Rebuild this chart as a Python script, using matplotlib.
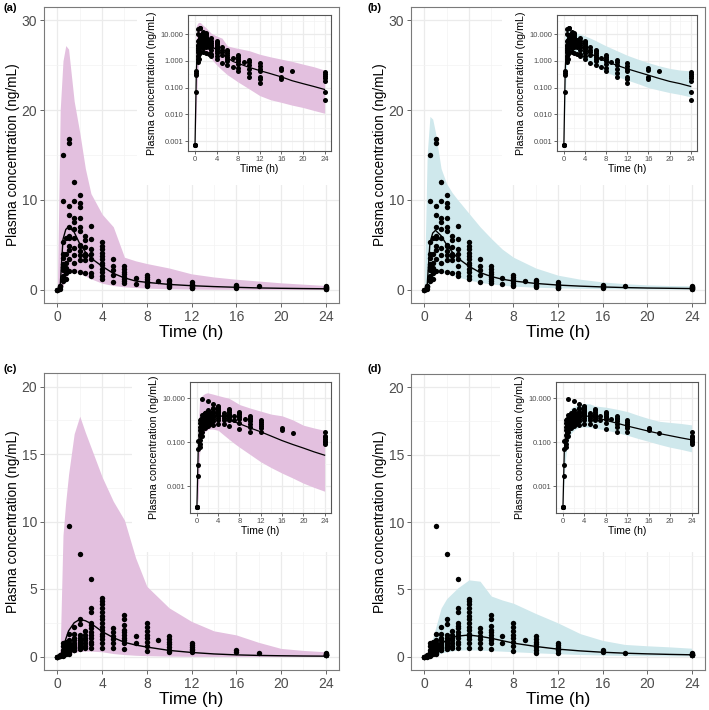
import matplotlib
matplotlib.use("Agg")
import matplotlib.pyplot as plt
from matplotlib.patches import Rectangle
from matplotlib.ticker import FixedLocator, NullFormatter
import numpy as np

plt.rcParams['font.family'] = ['Liberation Sans', 'DejaVu Sans']

# nominal sampling times of the observed data
obs_times = [0, 0.25, 0.5, 0.75, 1, 1.5, 2, 2.5, 3, 4, 5, 6, 7, 8, 9, 10, 12, 16, 18, 24]

# observed concentrations (ng/mL), study used in panels (a) and (b)
study1_conc = [
    [0, 0, 0],
    [0.42, 0.35, 0.3, 0.07],
    [15.0, 9.9, 5.3, 4.0, 3.5, 2.9, 2.5, 2.2, 1.5, 1.2, 0.9],
    [5.8, 4.0, 3.0, 2.4, 1.8, 1.2],
    [16.8, 16.3, 9.3, 8.3, 7.0, 6.0, 5.7, 4.8, 4.4, 3.4, 2.1],
    [12.0, 9.9, 8.0, 7.5, 6.8, 5.8, 4.6, 3.8, 3.0, 2.1],
    [10.5, 9.7, 9.2, 8.0, 7.0, 6.5, 5.0, 4.8, 4.3, 3.8, 3.3, 2.0],
    [6.0, 5.5, 4.7, 4.0, 3.7, 3.3, 1.8],
    [7.1, 5.6, 4.5, 4.0, 3.4, 2.6, 1.8, 1.5],
    [5.3, 4.9, 4.5, 4.1, 3.7, 3.4, 3.0, 2.7, 2.3, 2.0, 1.5, 1.2],
    [3.4, 2.6, 2.2, 1.6, 0.8],
    [2.6, 2.3, 2.0, 1.7, 1.4, 1.2, 1.0, 0.7],
    [1.3, 0.6],
    [1.6, 1.4, 1.2, 1.0, 0.75, 0.55, 0.4],
    [0.9],
    [1.1, 0.9, 0.7, 0.5, 0.35, 0.25],
    [0.85, 0.65, 0.5, 0.4, 0.25, 0.2, 0.15],
    [0.55, 0.45, 0.25, 0.2],
    [0.4],
    [0.38, 0.32, 0.27, 0.22, 0.17, 0.07, 0.035],
]

# observed concentrations (ng/mL), study used in panels (c) and (d)
study2_conc = [
    [0, 0, 0, 0],
    [0.12, 0.05, 0.009, 0.003],
    [1.0, 0.75, 0.5, 0.35, 0.22, 0.13, 0.08, 0.06],
    [1.1, 0.8, 0.6, 0.45, 0.3, 0.2],
    [9.7, 1.7, 1.2, 1.0, 0.85, 0.7, 0.6, 0.5, 0.4, 0.3, 0.2],
    [2.2, 1.7, 1.4, 1.2, 1.0, 0.85, 0.7, 0.6, 0.5, 0.45],
    [7.6, 2.8, 2.4, 1.6, 1.4, 1.25, 1.1, 0.95, 0.8, 0.7, 0.6, 0.55],
    [1.9, 1.6, 1.4, 1.2, 1.0, 0.8, 0.65],
    [5.75, 3.6, 3.3, 2.5, 2.3, 2.1, 1.8, 1.6, 1.4, 1.1, 0.9, 0.6],
    [4.3, 4.1, 3.9, 3.6, 3.3, 3.0, 2.8, 2.5, 2.2, 2.0, 1.7, 1.5, 1.3, 1.0, 0.65],
    [2.1, 1.8, 1.5, 1.3, 1.0, 0.65],
    [3.1, 2.8, 2.3, 2.0, 1.8, 1.6, 1.4, 1.2, 1.0, 0.55],
    [1.55, 1.0],
    [2.5, 2.2, 1.9, 1.6, 1.35, 1.1, 0.75, 0.4],
    [1.2],
    [1.5, 1.3, 1.1, 0.9, 0.7, 0.5, 0.3],
    [1.0, 0.85, 0.7, 0.55, 0.45, 0.3],
    [0.45, 0.35],
    [0.27],
    [0.28, 0.2, 0.17, 0.14, 0.12, 0.1, 0.08],
]

# simulated profiles: time grid, 5th / 50th / 95th percentiles
sim_t = [0, 0.25, 0.5, 0.75, 1, 1.5, 2, 2.5, 3, 4, 5, 6, 7, 8, 10, 12, 14, 16, 18, 20, 22, 24]

a_lo = [0, 0.02, 0.4, 1.2, 1.8, 2.0, 1.8, 1.5, 1.2, 0.7, 0.45, 0.3, 0.22, 0.16, 0.09, 0.05, 0.035, 0.028, 0.022, 0.018, 0.014, 0.011]
a_med = [0, 0.4, 5.6, 6.7, 7.0, 6.4, 5.1, 4.2, 3.5, 2.6, 1.8, 1.3, 0.95, 0.8, 0.57, 0.43, 0.33, 0.25, 0.18, 0.14, 0.11, 0.085]
a_hi = [0, 20, 25.5, 27.2, 26.8, 21, 17.5, 13.5, 10.7, 8.4, 7.0, 3.6, 3.2, 2.9, 2.4, 1.75, 1.4, 1.15, 0.95, 0.75, 0.6, 0.45]

b_lo = [0, 0.05, 0.6, 1.3, 1.8, 1.9, 1.8, 1.6, 1.4, 1.07, 0.8, 0.62, 0.48, 0.38, 0.26, 0.19, 0.14, 0.1, 0.08, 0.065, 0.055, 0.045]
b_med = [0, 0.4, 5.2, 6.3, 6.6, 6.0, 5.0, 4.2, 3.5, 2.6, 1.9, 1.45, 1.15, 0.95, 0.68, 0.5, 0.38, 0.29, 0.22, 0.17, 0.14, 0.11]
b_hi = [0, 15, 19.3, 19.0, 17.5, 13.5, 11.8, 10.8, 10.0, 8.5, 7.0, 5.7, 4.5, 3.6, 2.4, 1.6, 1.15, 0.85, 0.65, 0.52, 0.45, 0.42]

c_lo = [0, 0.0003, 0.03, 0.1, 0.2, 0.3, 0.38, 0.4, 0.4, 0.35, 0.22, 0.14, 0.09, 0.06, 0.028, 0.013, 0.007, 0.004, 0.0024, 0.0014, 0.0009, 0.0006]
c_med = [0, 0.05, 0.5, 1.3, 1.9, 2.5, 2.75, 2.65, 2.45, 1.85, 1.4, 1.05, 0.85, 0.7, 0.45, 0.3, 0.19, 0.12, 0.08, 0.055, 0.037, 0.026]
c_hi = [0, 0.5, 9.0, 11.5, 13.5, 16.5, 17.8, 16.6, 15.5, 13.3, 11.5, 10.1, 7.3, 5.2, 3.6, 2.6, 1.9, 1.6, 1.05, 0.6, 0.45, 0.35]

d_lo = [0, 0.003, 0.02, 0.06, 0.12, 0.25, 0.35, 0.42, 0.48, 0.5, 0.48, 0.44, 0.4, 0.36, 0.28, 0.21, 0.15, 0.11, 0.08, 0.06, 0.048, 0.037]
d_med = [0, 0.04, 0.25, 0.45, 0.65, 0.95, 1.2, 1.4, 1.52, 1.6, 1.5, 1.36, 1.18, 1.0, 0.75, 0.55, 0.42, 0.32, 0.25, 0.2, 0.16, 0.13]
d_hi = [0, 0.1, 0.7, 1.4, 2.1, 3.6, 4.3, 4.7, 5.1, 5.7, 5.6, 4.5, 4.2, 3.96, 3.2, 2.5, 1.7, 1.2, 0.9, 0.8, 0.72, 0.62]

PINK = '#e3c0df'
BLUE = '#cfe8ec'
W, H = 709, 710


def flatten(times, groups):
    tt, cc = [], []
    for t, g in zip(times, groups):
        for c in g:
            tt.append(t)
            cc.append(c)
    return np.array(tt), np.array(cc)


def box(x0, y0, x1, y1):
    # pixel box (top-left origin) -> figure fraction
    return [x0 / W, 1 - y1 / H, (x1 - x0) / W, (y1 - y0) / H]


def style_axes(ax, size, border):
    ax.set_facecolor('white')
    ax.set_axisbelow(True)
    ax.grid(which='major', color='#ebebeb', lw=0.9)
    ax.grid(which='minor', color='#f3f3f3', lw=0.5)
    ax.tick_params(which='major', labelsize=size, labelcolor='#4d4d4d', color='#4d4d4d',
                   length=3, width=0.6, pad=2)
    ax.tick_params(which='minor', length=0)
    for s in ax.spines.values():
        s.set_color(border)
        s.set_linewidth(0.8)


panels = [
    ('(a)', study1_conc, a_lo, a_med, a_hi, PINK, (44, 7, 339, 303), (188, 15, 331, 151),
     (137, 185), 30, 10, 0.0007, (10 ** -3.37, 10 ** 1.71), 1, (3, 8)),
    ('(b)', study1_conc, b_lo, b_med, b_hi, BLUE, (411, 7, 705, 303), (557, 15, 697, 151),
     (502, 185), 30, 10, 0.0007, (10 ** -3.37, 10 ** 1.71), 1, (367, 8)),
    ('(c)', study2_conc, c_lo, c_med, c_hi, PINK, (44, 373, 339, 670), (190, 382, 331, 513),
     (132, 552), 20, 5, 0.00012, (10 ** -4.21, 10 ** 1.74), 2, (3, 369)),
    ('(d)', study2_conc, d_lo, d_med, d_hi, BLUE, (411, 374, 705, 670), (556, 382, 698, 513),
     (500, 552), 20, 5, 0.00012, (10 ** -4.21, 10 ** 1.74), 2, (368, 369)),
]

fig = plt.figure(figsize=(7.09, 7.10), dpi=100)

for (lab, conc, lo, med, hi, col, mbox, ibox, wcorner, ymax, ystep, floor, ilim, dec, lpos) in panels:
    t_obs, c_obs = flatten(obs_times, conc)

    # main linear panel
    ax = fig.add_axes(box(*mbox))
    style_axes(ax, 10, '#7a7a7a')
    ax.fill_between(sim_t, lo, hi, color=col, lw=0, zorder=1)
    ax.plot(sim_t, med, color='black', lw=1.0, zorder=3)
    ax.scatter(t_obs, c_obs, s=15, color='black', linewidths=0, zorder=4)
    ax.set_xlim(-1.2, 25.2)
    ax.set_ylim(-0.05 * ymax, 1.05 * ymax)
    ax.set_xticks(range(0, 25, 4))
    ax.set_xticks(range(2, 25, 4), minor=True)
    ax.set_yticks(np.arange(0, ymax + 0.1, ystep))
    ax.set_yticks(np.arange(ystep / 2, ymax, ystep), minor=True)
    ax.set_xlabel('Time (h)', fontsize=12.5, labelpad=1)
    ax.set_ylabel('Plasma concentration (ng/mL)', fontsize=9.8, labelpad=1)

    # white area reserved for the inset plot
    x0, x1, y0, y1 = mbox[0], mbox[2], mbox[1], mbox[3]
    rx = (wcorner[0] - x0) / (x1 - x0)
    ry = (y1 - wcorner[1]) / (y1 - y0)
    ax.add_patch(Rectangle((rx, ry), 1 - rx, 1 - ry, transform=ax.transAxes,
                           facecolor='white', edgecolor='none', zorder=0.8))

    # inset log panel
    ins = fig.add_axes(box(*ibox))
    ins.set_yscale('log')
    style_axes(ins, 5.5, '#555555')
    ins.fill_between(sim_t, np.maximum(lo, floor), np.maximum(hi, floor), color=col, lw=0, zorder=1)
    ins.plot(sim_t, np.maximum(med, floor), color='black', lw=0.9, zorder=3)
    ins.scatter(t_obs, np.maximum(c_obs, floor), s=13, color='black', linewidths=0, zorder=4)
    ins.set_xlim(-1.3, 25.2)
    ins.set_ylim(*ilim)
    ins.set_xticks(range(0, 25, 4))
    ins.set_xticks(range(2, 25, 4), minor=True)
    majors = [10.0 ** k for k in range(1, -4, -dec)]
    if dec == 1:
        minors = [10.0 ** (k + 0.5) for k in range(-4, 2)]
    else:
        minors = [10.0 ** k for k in (0, -2, -4)]
    ins.yaxis.set_major_locator(FixedLocator(majors))
    ins.yaxis.set_minor_locator(FixedLocator(minors))
    ins.yaxis.set_minor_formatter(NullFormatter())
    ins.set_yticklabels(['%.3f' % v for v in majors])
    ins.tick_params(which='major', length=2, pad=1.5)
    ins.set_xlabel('Time (h)', fontsize=7.5, labelpad=1)
    ins.set_ylabel('Plasma concentration (ng/mL)', fontsize=7.7, labelpad=2)

    fig.text(lpos[0] / W, 1 - lpos[1] / H, lab, fontsize=8, fontweight='bold', va='center')

fig.savefig('out.png', dpi=100)
